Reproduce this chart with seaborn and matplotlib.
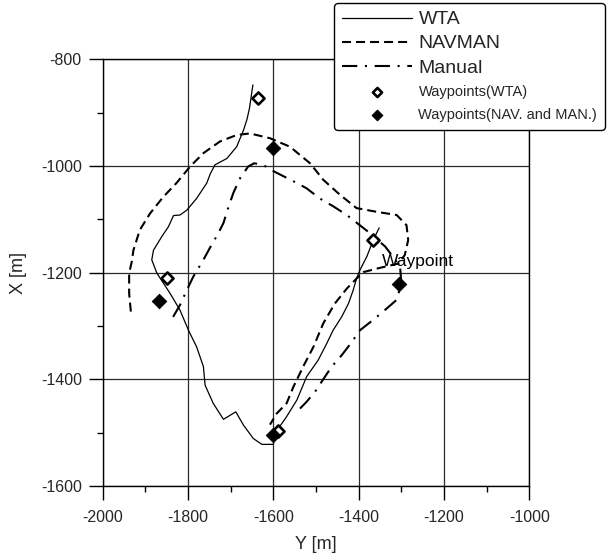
import numpy as np
import pandas as pd
import matplotlib
matplotlib.use("Agg")
import matplotlib.pyplot as plt
import seaborn as sns

# ---------------- data (horizontal = "Y [m]", vertical = "X [m]") ----------------
wta_y = [-1648, -1652, -1656, -1662, -1670, -1686, -1709, -1737, -1748, -1756,
         -1780, -1803, -1819, -1834, -1846, -1862, -1881, -1885, -1873, -1842,
         -1819, -1799, -1780, -1764, -1760, -1741, -1717, -1688, -1670, -1647,
         -1627, -1600, -1596, -1569, -1545, -1522, -1495, -1475, -1460, -1440,
         -1424, -1413, -1405, -1397, -1381, -1366, -1352]
wta_x = [-848, -870, -892, -913, -933, -964, -986, -998, -1015, -1032,
         -1061, -1083, -1092, -1093, -1114, -1133, -1158, -1176, -1201, -1239,
         -1270, -1308, -1339, -1376, -1411, -1445, -1475, -1461, -1486, -1511,
         -1522, -1522, -1501, -1470, -1439, -1395, -1364, -1333, -1308, -1283,
         -1258, -1233, -1211, -1195, -1170, -1139, -1116]

nav_y = [-1934, -1938, -1938, -1932, -1928, -1913, -1889, -1858, -1827, -1795,
         -1764, -1725, -1686, -1655, -1608, -1561, -1514, -1483, -1444, -1405,
         -1358, -1311, -1288, -1284, -1292, -1307, -1350, -1389, -1405, -1428,
         -1456, -1483, -1506, -1530, -1553, -1569, -1592, -1608]
nav_x = [-1273, -1239, -1201, -1180, -1158, -1120, -1089, -1058, -1032, -1001,
         -976, -954, -942, -939, -948, -964, -995, -1026, -1054, -1079,
         -1086, -1092, -1111, -1139, -1167, -1183, -1191, -1199, -1211, -1230,
         -1258, -1295, -1339, -1376, -1414, -1445, -1464, -1485]

man_y = [-1835, -1819, -1803, -1788, -1764, -1749, -1729, -1717, -1706, -1694,
         -1678, -1659, -1645, -1624, -1604, -1545, -1522, -1491, -1459, -1428,
         -1380, -1338, -1320, -1303, -1300, -1311, -1334, -1362, -1397, -1416,
         -1440, -1463, -1479, -1502, -1522, -1545]
man_x = [-1283, -1261, -1233, -1208, -1176, -1154, -1126, -1107, -1079, -1051,
         -1023, -1001, -995, -998, -1008, -1032, -1042, -1061, -1076, -1092,
         -1122, -1151, -1170, -1189, -1220, -1251, -1267, -1286, -1308, -1330,
         -1355, -1376, -1395, -1423, -1442, -1461]

wp_wta_y = [-1635, -1850, -1367, -1590]
wp_wta_x = [-873, -1211, -1138, -1497]
wp_nm_y = [-1602, -1867, -1305, -1600]
wp_nm_x = [-966, -1254, -1222, -1505]

series_labels = ["WTA", "NAVMAN", "Manual", "Waypoints(WTA)", "Waypoints(NAV. and MAN.)"]
xticks = [-2000, -1800, -1600, -1400, -1200, -1000]
xtick_labels = ["-2000", "-1800", "-1600", "-1400", "-1200", "-1000"]
yticks = [-1600, -1400, -1200, -1000, -800]
ytick_labels = ["-1600", "-1400", "-1200", "-1000", "-800"]
annot_text = "Waypoint"

# ---------------- style ----------------
sns.set_theme(style="white")
plt.rcParams["font.family"] = ["Liberation Sans", "DejaVu Sans"]
plt.rcParams["axes.unicode_minus"] = False
plt.rcParams["lines.scale_dashes"] = False

fig = plt.figure(figsize=(6.08, 5.53), dpi=100)
ax = fig.add_axes([0.1689, 0.1212, 0.7018, 0.7716])

sns.lineplot(x=wta_y, y=wta_x, sort=False, estimator=None, ax=ax,
             color="black", lw=0.9, label=series_labels[0])
sns.lineplot(x=nav_y, y=nav_x, sort=False, estimator=None, ax=ax,
             color="black", lw=1.5, linestyle=(0, (6.5, 3.6)), label=series_labels[1])
sns.lineplot(x=man_y, y=man_x, sort=False, estimator=None, ax=ax,
             color="black", lw=1.5, linestyle=(0, (11, 5.5, 1.5, 5.5)), label=series_labels[2])
sns.scatterplot(x=wp_wta_y, y=wp_wta_x, ax=ax, marker="D", s=38,
                facecolor="white", edgecolor="black", linewidth=1.9,
                label=series_labels[3], zorder=5)
sns.scatterplot(x=wp_nm_y, y=wp_nm_x, ax=ax, marker="D", s=55,
                color="black", edgecolor="black", linewidth=0.6,
                label=series_labels[4], zorder=5)

ax.text(-1346, -1180, annot_text, fontsize=12.5, va="center", ha="left", color="black")

ax.set_xlim(-2000, -1000)
ax.set_ylim(-1600, -800)
ax.set_xticks(xticks)
ax.set_xticklabels(xtick_labels)
ax.set_yticks(yticks)
ax.set_yticklabels(ytick_labels)
ax.set_xticks(np.arange(-1900, -1000, 200), minor=True)
ax.set_yticks(np.arange(-1500, -800, 200), minor=True)
ax.grid(True, which="major", color="#2a2a2a", lw=0.9)
ax.tick_params(which="major", direction="out", length=10, width=1, color="black",
               labelsize=11.5, bottom=True, left=True)
ax.tick_params(axis="x", which="major", pad=7)
ax.tick_params(axis="y", which="major", pad=5)
ax.tick_params(which="minor", direction="out", length=4.5, width=1, color="black",
               bottom=True, left=True)
for sp in ax.spines.values():
    sp.set_color("black")
    sp.set_linewidth(1.0)
ax.set_xlabel("Y [m]", fontsize=13, labelpad=8)
ax.set_ylabel("X [m]", fontsize=13, labelpad=10)

leg = ax.legend(loc="upper right", bbox_to_anchor=(605 / 608, 1 - 3 / 553),
                bbox_transform=fig.transFigure, borderaxespad=0, fancybox=True,
                framealpha=1, edgecolor="black", fontsize=14, handlelength=3.6,
                handletextpad=0.35, labelspacing=0.38, handleheight=0.5,
                borderpad=0.4, markerscale=0.75)
leg.get_frame().set_linewidth(1.0)
for t in leg.get_texts()[3:]:
    t.set_fontsize(10.5)

fig.savefig("out.png", dpi=100)
